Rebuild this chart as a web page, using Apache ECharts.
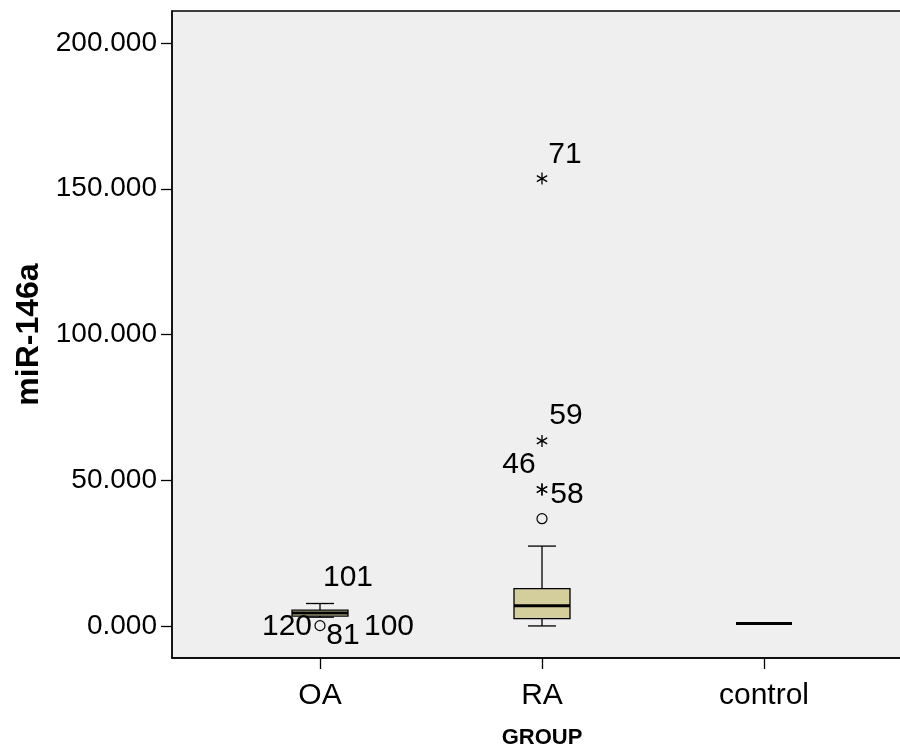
<!DOCTYPE html>
<html>
<head>
<meta charset="utf-8">
<script src="https://cdn.jsdelivr.net/npm/echarts@6/dist/echarts.min.js"></script>
<style>
html,body{margin:0;padding:0;background:#fff;}
#chart{width:900px;height:753px;}
</style>
</head>
<body>
<div id="chart"></div>
<script>
// ---- data ----
var categories = ['OA', 'RA', 'control'];
// [low whisker, Q1, median, Q3, high whisker]
var oaBox = [3.0, 3.4, 4.4, 5.4, 7.7];
var raBox = [0.0, 2.5, 6.9, 12.8, 27.4];
var controlBox = [0.8, 0.8, 0.8, 0.8, 0.8];
var yTicks = [0, 50, 100, 150, 200];
// outliers (circle)
var outlierCategories = ['OA', 'RA'];
var outlierValues = [0.1, 36.8];
var outlierNames = ['120', ''];
// extremes (star)
var extremeCategories = ['RA', 'RA', 'RA', 'RA'];
var extremeValues = [153.5, 63.5, 46.8, 46.8];
var extremeNames = ['71', '59', '58', '46'];
// case labels whose markers are hidden behind the OA box
var hiddenCategories = ['OA', 'OA', 'OA'];
var hiddenValues = [8.0, 0.1, 0.1];
var hiddenNames = ['101', '81', '100'];

// ---- styles ----
var FONT = '"Liberation Sans", Arial, sans-serif';
var BOX_W = 56;
var labelOffsets = {
  '120': [-33, 1], '71': [23, -24], '59': [24, -25], '58': [25, 5], '46': [-23, -25],
  '101': [28, -25], '81': [23, 10], '100': [69, 1]
};
var starPath = 'path://M-0.55 -5L0.55 -5L0.55 5L-0.55 5Z' +
  'M-4.05 2.98L-4.6 2.02L4.05 -2.98L4.6 -2.02Z' +
  'M-4.6 -2.02L-4.05 -2.98L4.6 2.02L4.05 2.98Z';

var boxes = [oaBox, raBox, controlBox];
var boxData = boxes.map(function (b, i) { return [i].concat(b); });

function makePoints(cats, vals, names) {
  return cats.map(function (c, i) {
    return {
      value: [c, vals[i]],
      name: names[i],
      label: { offset: labelOffsets[names[i]] || [0, 0] }
    };
  });
}

var labelStyle = {
  show: true, position: 'inside', formatter: '{b}',
  fontFamily: FONT, fontSize: 30, color: '#000', textBorderWidth: 0, opacity: 1
};

var chart = echarts.init(document.getElementById('chart'));
chart.setOption({
  animation: false,
  backgroundColor: '#fff',
  grid: [
    { left: 172, right: -2, top: 11, bottom: 95, show: true, backgroundColor: '#efefef',
      borderColor: '#000', borderWidth: 1.3, outerBoundsMode: 'none', containLabel: false },
    { left: 209, right: 25, top: 11, bottom: 95, outerBoundsMode: 'none', containLabel: false }
  ],
  xAxis: [
    { gridIndex: 0, type: 'value', min: 0, max: 1,
      axisLine: { show: true, onZero: false, lineStyle: { color: '#000', width: 1.5 } },
      axisTick: { show: false }, axisLabel: { show: false }, splitLine: { show: false } },
    { gridIndex: 1, type: 'category', data: categories,
      axisLine: { show: false, onZero: false },
      axisTick: { show: true, alignWithLabel: true, length: 11, lineStyle: { color: '#000', width: 1.3 } },
      axisLabel: { fontFamily: FONT, fontSize: 30, color: '#000', margin: 23 },
      splitLine: { show: false },
      name: 'GROUP', nameLocation: 'middle', nameGap: 69,
      nameTextStyle: { fontFamily: FONT, fontSize: 22, fontWeight: 'bold', color: '#000' } }
  ],
  yAxis: [
    { gridIndex: 0, type: 'value', min: -11, max: 211,
      axisLine: { show: true, onZero: false, lineStyle: { color: '#000', width: 1.5 } },
      axisTick: { show: true, length: 11, customValues: yTicks, lineStyle: { color: '#000', width: 1.3 } },
      axisLabel: { customValues: yTicks, fontFamily: FONT, fontSize: 28, color: '#000', margin: 15,
        formatter: function (v) { return v.toFixed(3); } },
      splitLine: { show: false },
      name: 'miR-146a', nameLocation: 'middle', nameGap: 127, nameRotate: 90,
      nameTextStyle: { fontFamily: FONT, fontSize: 32, fontWeight: 'bold', color: '#000' } },
    { gridIndex: 1, type: 'value', min: -11, max: 211, show: false, splitLine: { show: false } }
  ],
  series: [
    {
      type: 'custom', xAxisIndex: 1, yAxisIndex: 1,
      data: boxData,
      encode: { x: 0, y: [1, 2, 3, 4, 5] },
      renderItem: function (params, api) {
        var x = api.value(0);
        var lo = api.coord([x, api.value(1)]);
        var q1 = api.coord([x, api.value(2)]);
        var md = api.coord([x, api.value(3)]);
        var q3 = api.coord([x, api.value(4)]);
        var hi = api.coord([x, api.value(5)]);
        var cx = lo[0];
        var hw = BOX_W / 2, cw = BOX_W / 4;
        var ls = { stroke: '#000', lineWidth: 1.3 };
        return {
          type: 'group',
          children: [
            { type: 'line', shape: { x1: cx, y1: lo[1], x2: cx, y2: q1[1] }, style: ls },
            { type: 'line', shape: { x1: cx, y1: q3[1], x2: cx, y2: hi[1] }, style: ls },
            { type: 'line', shape: { x1: cx - cw, y1: lo[1], x2: cx + cw, y2: lo[1] }, style: ls },
            { type: 'line', shape: { x1: cx - cw, y1: hi[1], x2: cx + cw, y2: hi[1] }, style: ls },
            { type: 'rect', shape: { x: cx - hw, y: q3[1], width: BOX_W, height: q1[1] - q3[1] },
              style: { fill: '#d3ce9b', stroke: '#000', lineWidth: 1.3 } },
            { type: 'line', shape: { x1: cx - hw, y1: md[1], x2: cx + hw, y2: md[1] },
              style: { stroke: '#000', lineWidth: 3 } }
          ]
        };
      }
    },
    {
      type: 'scatter', xAxisIndex: 1, yAxisIndex: 1,
      symbol: 'circle', symbolSize: 10,
      itemStyle: { color: '#efefef', borderColor: '#000', borderWidth: 1.2, opacity: 1 },
      label: labelStyle,
      data: makePoints(outlierCategories, outlierValues, outlierNames)
    },
    {
      type: 'scatter', xAxisIndex: 1, yAxisIndex: 1,
      symbol: starPath, symbolSize: 12, symbolKeepAspect: true,
      itemStyle: { color: '#000', opacity: 1 },
      label: labelStyle,
      data: makePoints(extremeCategories, extremeValues, extremeNames)
    },
    {
      type: 'scatter', xAxisIndex: 1, yAxisIndex: 1,
      symbol: 'circle', symbolSize: 1, itemStyle: { color: 'rgba(0,0,0,0)' },
      label: labelStyle,
      data: makePoints(hiddenCategories, hiddenValues, hiddenNames)
    }
  ]
});
</script>
</body>
</html>
